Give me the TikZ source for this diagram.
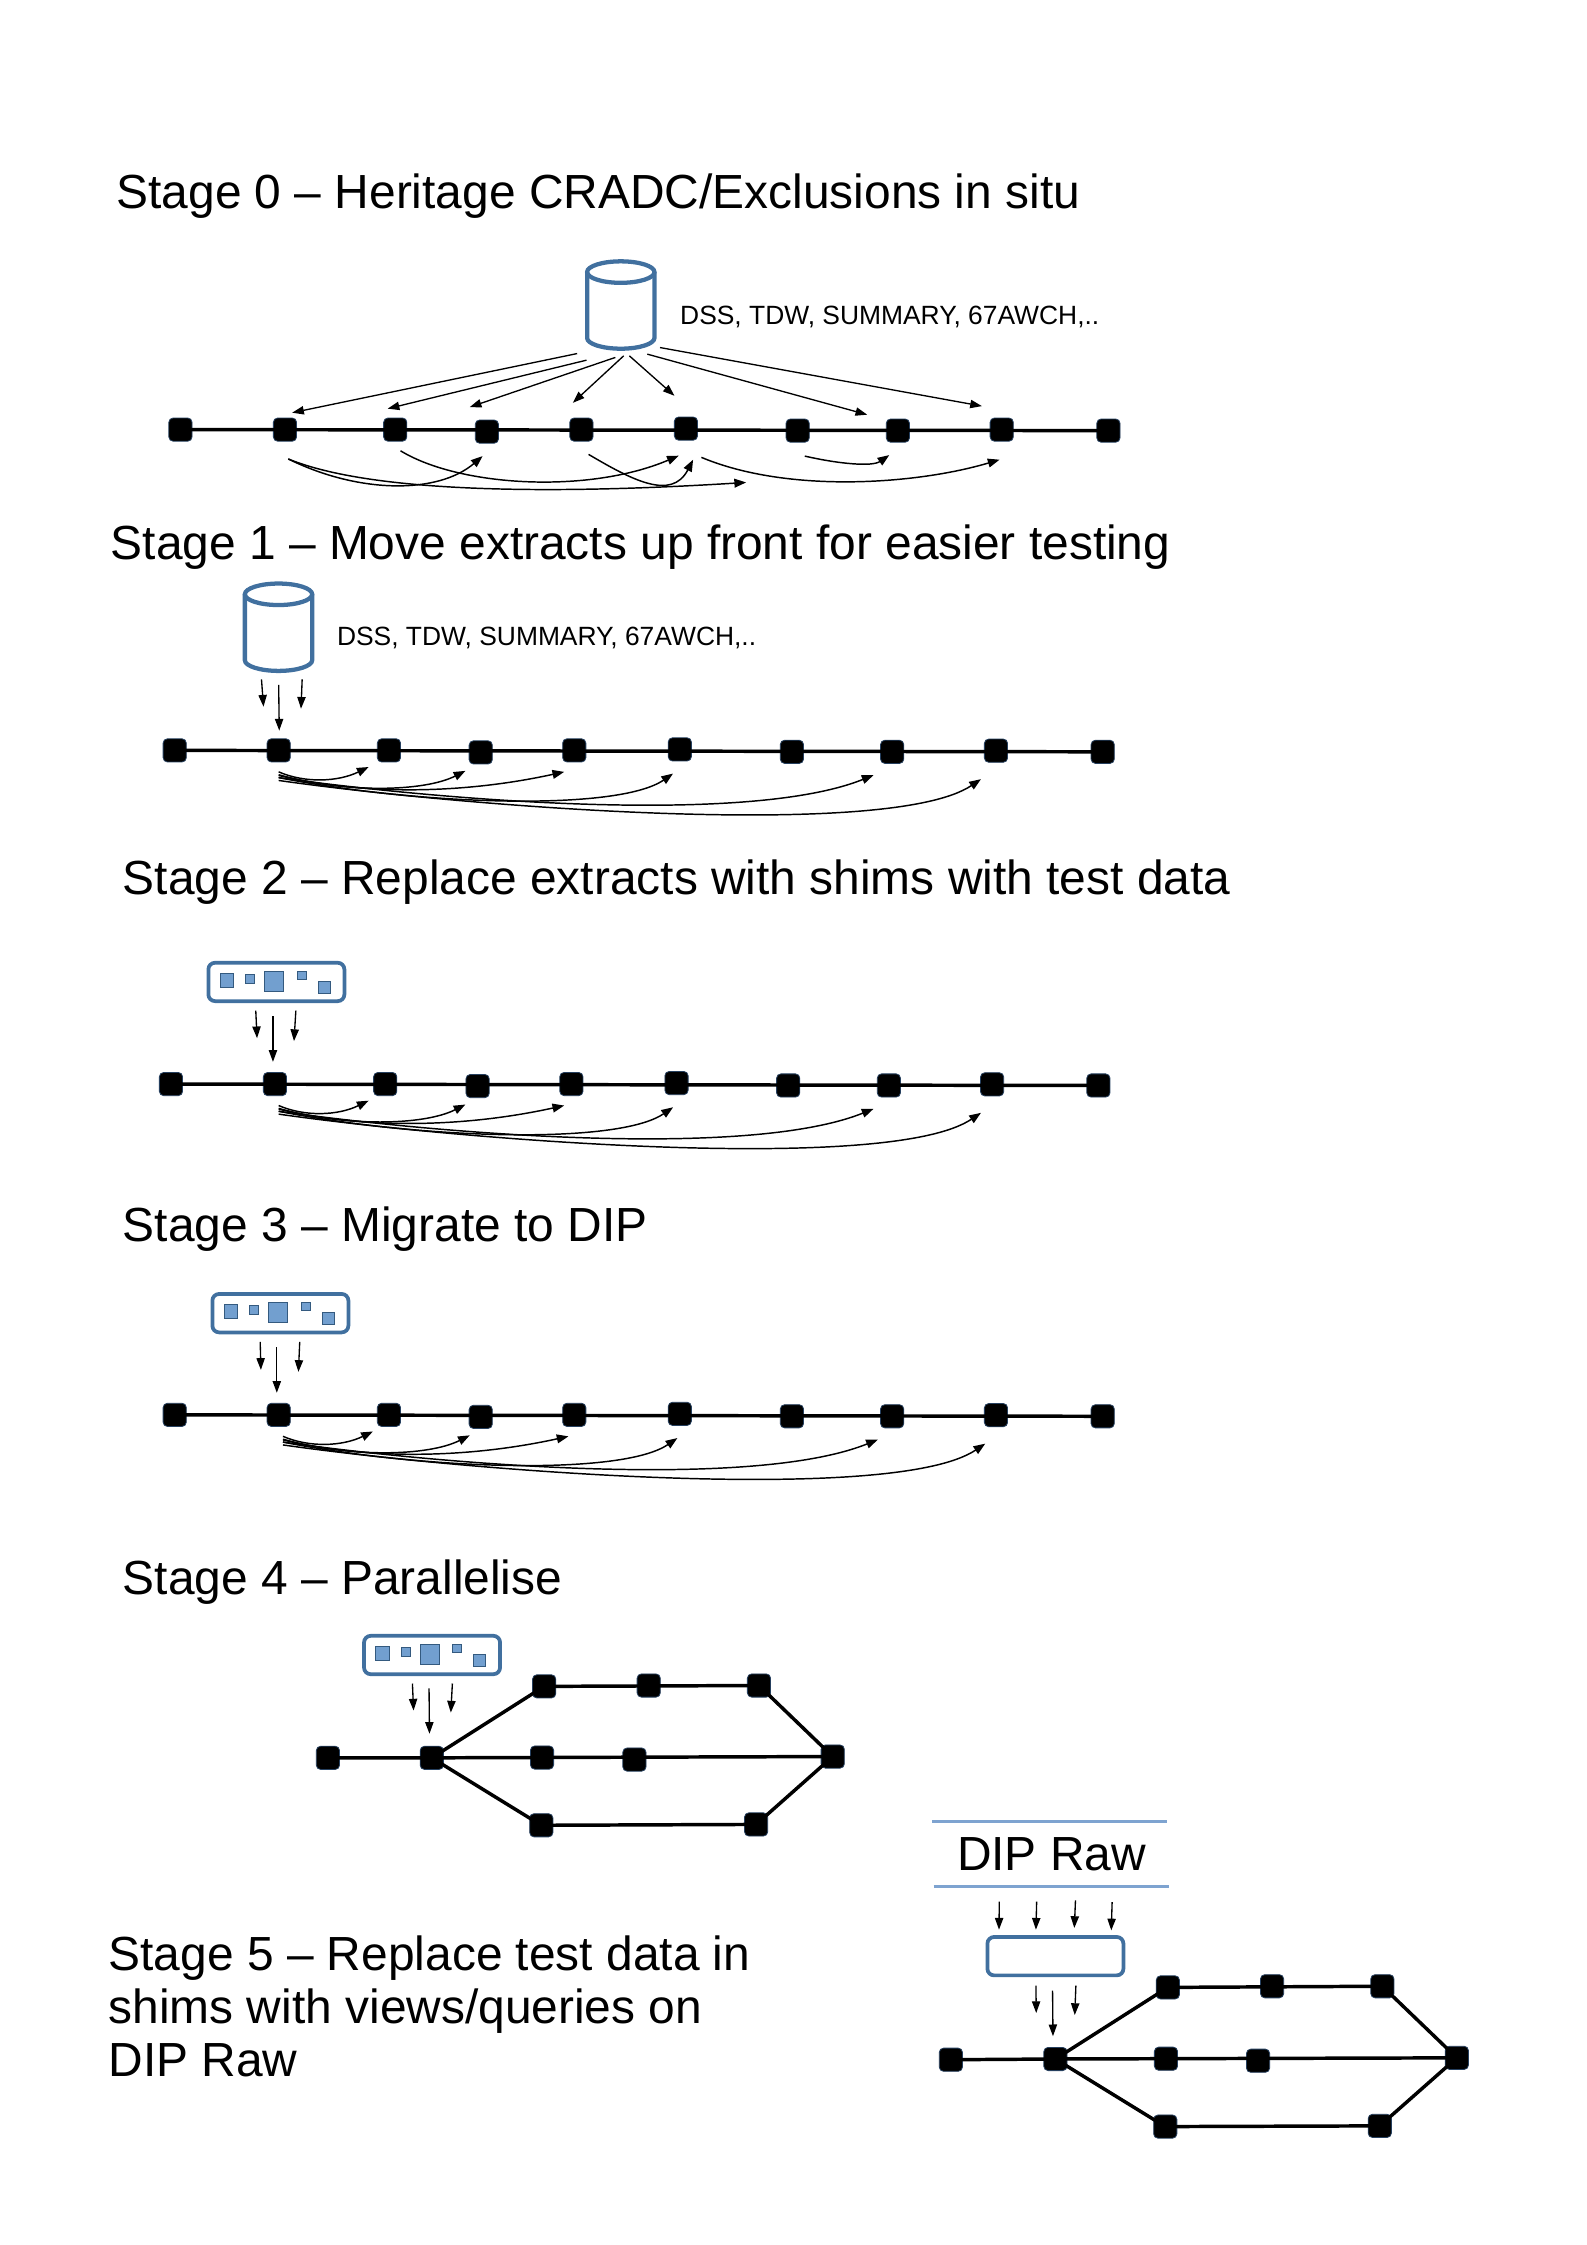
\documentclass[tikz,border=0pt]{standalone}
\usepackage{fontspec}
\setmainfont{Liberation Sans}
\usetikzlibrary{arrows.meta}
\definecolor{cylblue}{HTML}{41709F}
\definecolor{lightb}{HTML}{729FCF}
\definecolor{ruleb}{HTML}{7EA3D0}
\definecolor{sqedge}{HTML}{26405F}
\tikzset{
  sq/.style={draw=sqedge,line width=0.3pt,fill=black,rounded corners=1.6pt,minimum width=8.7pt,minimum height=8.7pt,inner sep=0pt,outer sep=0pt},
  link/.style={line width=1.3pt,black},
  farrow/.style={line width=0.5pt,-{Stealth[inset=0pt,length=4.4pt,width=3.1pt]}},
  fcurve/.style={line width=0.55pt,-{Stealth[inset=0pt,length=4.4pt,width=3.3pt]}},
  heading/.style={anchor=base west,inner sep=0pt,font=\fontsize{17.96}{20}\selectfont},
  smalltext/.style={anchor=west,inner sep=0pt,font=\fontsize{9.9}{12}\selectfont},
  shimbox/.style={draw=cylblue,line width=1.4pt,rounded corners=2.5pt,minimum width=51pt,minimum height=14.4pt,inner sep=0pt,outer sep=0pt},
  chip/.style={draw=cylblue!80!black,line width=0.3pt,fill=lightb},
  bluerule/.style={draw=ruleb,line width=1.3pt},
  cyl/.style={draw=cylblue,line width=1.6pt}
}
\newcounter{fa}
\newcommand{\fa}[2]{\stepcounter{fa}\coordinate (fs\thefa) at (#1);\coordinate (fe\thefa) at (#2);\draw[farrow] (fs\thefa) -- (fe\thefa);}
\newcommand{\fc}[4]{\stepcounter{fa}\coordinate (fs\thefa) at (#1);\coordinate (fe\thefa) at (#4);\draw[fcurve] (fs\thefa) .. controls (#2) and (#3) .. (fe\thefa);}
\newcommand{\chain}[2]{%
  \foreach \x/\y [count=\i] in {#2} {\node[sq] (#1\i) at (\x,\y) {};}
  \draw[link] (#11.center) -- (#110.center);
}
\newcommand{\shim}[3]{%
  \node[shimbox] (#1) at (#2,#3) {};
  \begin{scope}[shift={(#2,#3)}]
    \draw[chip] (-39.4,-6.1) rectangle (-29.7,3.6);
    \draw[chip] (-21.6,-5.4) rectangle (-15.4,0.8);
    \draw[chip] (-8.3,-7.3) rectangle (5.1,6.4);
    \draw[chip] (14.4,-7.7) rectangle (20.7,-1.7);
    \draw[chip] (29.1,-0.4) rectangle (37.6,7.8);
  \end{scope}
}
\newcommand{\cylinder}[3]{% left x, y of top ellipse centre, name
  \node[inner sep=0pt,outer sep=0pt,minimum width=0pt] (#3) at (#1+23.5,#2+27) {};
  \draw[cyl] (#1,#2) -- (#1,#2+46) arc[start angle=180,end angle=0,x radius=23.5,y radius=7.5] -- (#1+47,#2);
  \draw[cyl] (#1+23.5,#2) ellipse[x radius=23.5,y radius=7.5];
}
\newcommand{\fanbundle}{%
  \fc{193.6,539}{212,547}{235,546}{256.4,535.6}
  \fc{193.6,541}{240,554}{295,553}{324,538.3}
  \fc{193.6,541.5}{250,555}{320,555}{393,539}
  \fc{193.6,543}{290,562}{430,567}{469,540.2}
  \fc{193.6,543}{300,558}{520,577}{609,541.3}
  \fc{193.6,545}{320,563}{620,587}{684,544.1}
}
\newcommand{\branches}[1]{%
  \draw[link] (#1a.center) -- (#1b.center) -- (#1t1.center) -- (#1t3.center) -- (#1e.center);
  \draw[link] (#1b.center) -- (#1e.center);
  \draw[link] (#1b.center) -- (#1d1.center) -- (#1d3.center) -- (#1e.center);
}
\begin{document}
\begin{tikzpicture}[x=0.537pt,y=-0.537pt]
\useasboundingbox (0,0) rectangle (1108.2,1567.7);

% Stage 0
\node[heading] (h0) at (81,145.7) {Stage 0 – Heritage CRADC/Exclusions in situ};
\cylinder{410}{190}{db0}
\node[smalltext] (t0) at (474.6,221) {DSS, TDW, SUMMARY, 67AWCH,..};
\begin{scope}[shift={(1,0)}]
\chain{a}{125/300,198/300,275/300,339/301.4,405/300,478/299.3,556/300.7,626/300.7,698.5/300,773/300.7}
\fa{402,246.9}{203,288.2}
\fa{408.6,251.5}{269.7,285.4}
\fa{428.7,249.6}{327,284.3}
\fa{434.5,248.5}{399,281.3}
\fa{438.5,248.5}{470,276.4}
\fa{451,247.3}{604.6,289.6}
\fa{459.9,242.7}{684.7,283.6}
\fc{200.3,320.5}{250,345}{305,345}{336,318.5}
\fc{200.3,320.5}{260,345}{390,345}{520,336.9}
\fc{278.7,314.8}{320,340}{410,345}{473,318.2}
\fc{410,317.3}{440,335}{468,350}{483,321}
\fc{488.8,319.4}{550,345}{640,338}{697,321}
\fc{561,318.5}{585,324}{608,326}{620,317.8}
\end{scope}

% Stage 1
\node[heading] (h1) at (77,390.7) {Stage 1 – Move extracts up front for easier testing};
\cylinder{171}{415}{db1}
\node[smalltext] (t1) at (235,445.5) {DSS, TDW, SUMMARY, 67AWCH,..};
\begin{scope}[shift={(1,0)}]
\chain{b}{121/524,193.6/524,270.6/524,334.7/525.4,400/524,473.7/523.3,552/525,622/525,694.5/524.2,769/525}
\fa{181.6,474.4}{183,493.5}
\fa{193.6,478.3}{194,510.2}
\fa{210,474.4}{209.2,494.9}
\fanbundle
\end{scope}

% Stage 2
\node[heading] (h2) at (85.5,624.7) {Stage 2 – Replace extracts with shims with test data};
\begin{scope}[shift={(1,0)}]
\shim{s2}{192}{685.7}
\chain{c}{118.4/757,191/757,268/757,332.5/758.4,398/757,471.4/756.3,549.4/758,619.7/758,691.8/757.2,766/758}
\fa{177.6,705.7}{178.5,725}
\fa{189.6,709.6}{189.6,741.5}
\fa{205.6,705.7}{204.3,727}
\begin{scope}[shift={(0,233)}]\fanbundle\end{scope}
\end{scope}

% Stage 3
\node[heading] (h3) at (85.5,866.7) {Stage 3 – Migrate to DIP};
\begin{scope}[shift={(1,0)}]
\shim{s3}{194.8}{917}
\chain{d}{121/988,193.6/988,270.6/988,334.7/989.4,400/988,473.7/987.3,552/989,622/989,694.5/988.2,769/989}
\fa{180.7,937}{181.2,956.6}
\fa{192.3,940.7}{192.3,972.6}
\fa{208.3,937}{207.4,958}
\begin{scope}[shift={(3,464)}]\fanbundle\end{scope}
\end{scope}

% Stage 4
\node[heading] (h4) at (85.5,1113.7) {Stage 4 – Parallelise};
\shim{s4}{301.7}{1155.7}
\node[sq] (ea) at (229,1227.5) {};
\node[sq] (eb) at (301.5,1227.5) {};
\node[sq] (et1) at (380,1177.6) {};
\node[sq] (et2) at (453,1177) {};
\node[sq] (et3) at (530,1177) {};
\node[sq] (em1) at (378.5,1227.3) {};
\node[sq] (em2) at (443,1228.7) {};
\node[sq] (ee) at (581.5,1226.6) {};
\node[sq] (ed1) at (378,1274.6) {};
\node[sq] (ed3) at (528,1274) {};
\branches{e}
\fa{288,1175.6}{288.8,1194.5}
\fa{299.6,1179}{299.9,1210.7}
\fa{315.9,1175.6}{314.8,1195.9}

% Stage 5
\node[heading] (h5a) at (75.5,1376) {Stage 5 – Replace test data in};
\node[heading] (h5b) at (75.5,1413) {shims with views/queries on};
\node[heading] (h5c) at (75.5,1450) {DIP Raw};
\coordinate (r1a) at (651,1272);\coordinate (r1b) at (815,1272);
\coordinate (r2a) at (652,1317.5);\coordinate (r2b) at (816,1317.5);
\draw[bluerule] (r1a) -- (r1b);
\draw[bluerule] (r2a) -- (r2b);
\node[inner sep=0pt,font=\fontsize{17.96}{20}\selectfont] (dip) at (734.3,1294.7) {DIP Raw};
\fa{697.8,1327.9}{697.6,1347.5}
\fa{723.9,1327.9}{723.4,1347.5}
\fa{751,1327}{750.2,1346.3}
\fa{776.6,1328.3}{776,1348}
\node[shimbox] (s5) at (737,1366) {};
\fa{723.4,1386.5}{723.6,1405.7}
\fa{735,1390}{735.3,1421.9}
\fa{751.3,1386.5}{750.5,1407.1}
\node[sq] (fa) at (664,1438.3) {};
\node[sq] (fb) at (737,1437.8) {};
\node[sq] (ft1) at (815.5,1387.8) {};
\node[sq] (ft2) at (888.3,1387) {};
\node[sq] (ft3) at (965.3,1387) {};
\node[sq] (fm1) at (814.2,1437.6) {};
\node[sq] (fm2) at (878.5,1439) {};
\node[sq] (fe) at (1017.3,1437) {};
\node[sq] (fd1) at (813.7,1485) {};
\node[sq] (fd3) at (963.5,1484.5) {};
\branches{f}
\end{tikzpicture}
\end{document}
